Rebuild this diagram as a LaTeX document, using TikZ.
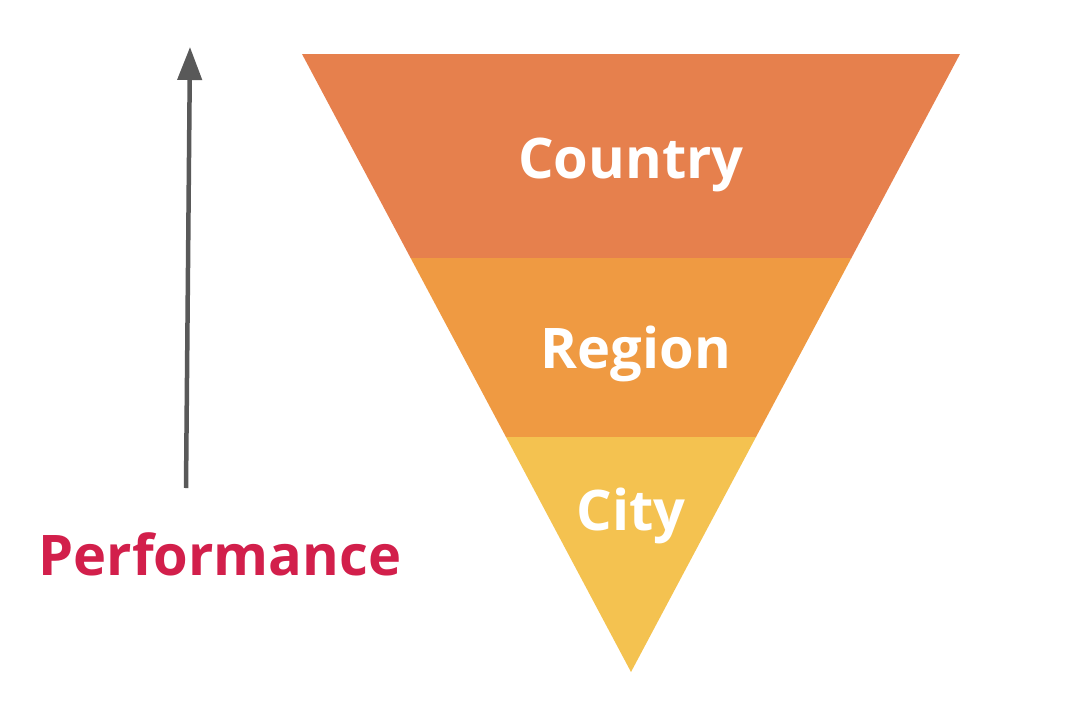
\documentclass[tikz,border=0pt]{standalone}
\usepackage{fontspec}
\setmainfont{Open Sans}
\usetikzlibrary{positioning,arrows.meta}
\definecolor{countryorange}{RGB}{230,128,77}
\definecolor{regionorange}{RGB}{239,154,66}
\definecolor{cityyellow}{RGB}{244,194,80}
\definecolor{perfred}{RGB}{210,31,75}
\definecolor{arrowgray}{RGB}{89,89,89}

\begin{document}
\begin{tikzpicture}[x=1pt,y=-1pt,
						label/.style={font=\fontsize{56}{60}\selectfont\bfseries,text=white,anchor=base,inner sep=0pt},
						perf/.style={font=\fontsize{56}{60}\selectfont\bfseries,text=perfred,anchor=base,inner sep=0pt},
						arrow/.style={draw=arrowgray,line width=4.5pt,-{Triangle[length=33pt,width=24pt]}}]
		\useasboundingbox (0,0) rectangle (1066,702);

		\coordinate (topleft)	at (302,54);
		\coordinate (topright)	at (960,54);
		\coordinate (apex)		at (631,672);
		\coordinate (aleft)		at (410.6,258);
		\coordinate (aright)	at (851.4,258);
		\coordinate (bleft)		at (506,437);
		\coordinate (bright)	at (756,437);

		\fill[countryorange] (topleft) -- (topright) -- (aright) -- (aleft) -- cycle;
		\fill[regionorange] (aleft) -- (aright) -- (bright) -- (bleft) -- cycle;
		\fill[cityyellow] (bleft) -- (bright) -- (apex) -- cycle;

		\node[label]	(country)	at (631,178)	{Country};
		\node[label]	(region)	at (636,368)	{Region};
		\node[label]	(city)		at (631,530)	{City};

		\coordinate (arrowbottom)	at (186,488);
		\coordinate (arrowtop)		at (190,47);
		\draw[arrow] (arrowbottom) -- (arrowtop);

		\node[perf]		(performance)	at (220,575)	{Performance};
	\end{tikzpicture}
\end{document}
